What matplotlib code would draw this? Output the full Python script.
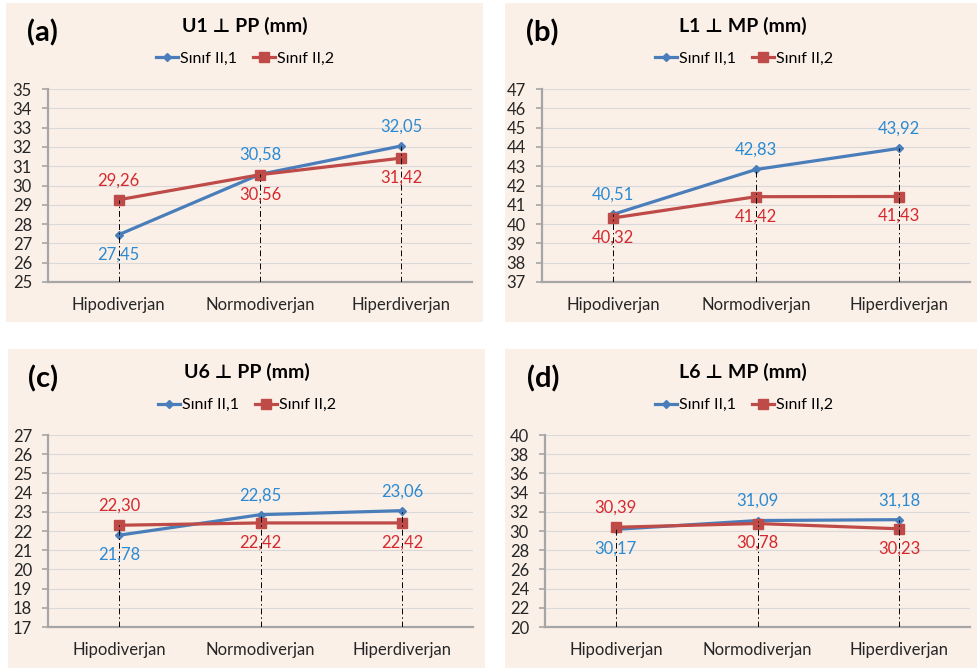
import matplotlib.pyplot as plt
from matplotlib.lines import Line2D
from matplotlib.patches import Rectangle

plt.rcParams['font.family'] = ['Lato', 'DejaVu Sans']

categories = ['Hipodiverjan', 'Normodiverjan', 'Hiperdiverjan']
series_names = ['Sınıf II,1', 'Sınıf II,2']

u1_s1 = [27.45, 30.58, 32.05]
u1_s2 = [29.26, 30.56, 31.42]
l1_s1 = [40.51, 42.83, 43.92]
l1_s2 = [40.32, 41.42, 41.43]
u6_s1 = [21.78, 22.85, 23.06]
u6_s2 = [22.30, 22.42, 22.42]
l6_s1 = [30.17, 31.09, 31.18]
l6_s2 = [30.39, 30.78, 30.23]

titles = ['U1 ⊥ PP (mm)', 'L1 ⊥ MP (mm)', 'U6 ⊥ PP (mm)', 'L6 ⊥ MP (mm)']
panel_tags = ['(a)', '(b)', '(c)', '(d)']
y_ranges = [(25, 35, 1), (37, 47, 1), (17, 27, 1), (20, 40, 2)]

BG = '#FBF0E8'
LINE_COLORS = ['#4A7EBB', '#BE4B48']
LABEL_COLORS = ['#2B8AD2', '#D42A2F']
AXIS_GRAY = '#A6A6A6'

W, H = 977, 669
fig = plt.figure(figsize=(W / 100, H / 100), dpi=100)
fig.patch.set_facecolor('white')


def fx(px):
    return px / W


def fy(py):
    return 1 - py / H


# pixel layout for each panel: background box, axes box, title/tag/legend anchors
layout = [
    dict(bg=(6, 3, 483, 322), ax=(48, 89, 472, 282), title=(245, 26), tag=(42, 33), leg=(245, 59)),
    dict(bg=(505, 3, 977, 322), ax=(542, 89, 970, 282), title=(743, 26), tag=(542, 33), leg=(744, 59)),
    dict(bg=(8, 349, 485, 668), ax=(48, 435, 473, 627), title=(247, 372), tag=(43, 379), leg=(247, 405)),
    dict(bg=(505, 349, 977, 668), ax=(545, 435, 970, 627), title=(743, 372), tag=(543, 379), leg=(744, 405)),
]

data = [(u1_s1, u1_s2), (l1_s1, l1_s2), (u6_s1, u6_s2), (l6_s1, l6_s2)]


def fmt(v):
    return f'{v:.2f}'.replace('.', ',')


for i, lay in enumerate(layout):
    x0, y0, x1, y1 = lay['bg']
    fig.patches.append(Rectangle((fx(x0), fy(y1)), fx(x1 - x0), (y1 - y0) / H,
                                 transform=fig.transFigure, facecolor=BG,
                                 edgecolor='none', zorder=-5))
    ax0, ay0, ax1, ay1 = lay['ax']
    ax = fig.add_axes([fx(ax0), fy(ay1), fx(ax1 - ax0), (ay1 - ay0) / H])
    ax.set_facecolor('none')
    ax.set_zorder(1)

    s1, s2 = data[i]
    xs = range(len(categories))
    lo, hi, step = y_ranges[i]

    ax.plot(xs, s1, color=LINE_COLORS[0], lw=2.3, marker='D', ms=4.5, zorder=3)
    ax.plot(xs, s2, color=LINE_COLORS[1], lw=2.3, marker='s', ms=7, zorder=3)

    # drop lines from the higher point to the category axis
    for x, a, b in zip(xs, s1, s2):
        ax.plot([x, x], [lo, max(a, b)], color='black', lw=0.7,
                ls=(0, (6, 3, 1.5, 3)), zorder=4)

    # value labels: higher series above, lower series below
    for x, a, b in zip(xs, s1, s2):
        for v, other, col in ((a, b, LABEL_COLORS[0]), (b, a, LABEL_COLORS[1])):
            off = 14 if v >= other else -14
            ax.annotate(fmt(v), (x, v), xytext=(0, off), textcoords='offset points',
                        ha='center', va='center', color=col, fontsize=12, zorder=5)

    ax.set_xlim(-0.5, 2.5)
    ax.set_ylim(lo, hi)
    ax.set_yticks(range(lo, hi + 1, step))
    ax.set_xticks(list(xs))
    ax.set_xticklabels(categories)
    ax.grid(axis='y', color='#D9D9D9', lw=0.8)
    ax.set_axisbelow(True)
    for side in ('top', 'right'):
        ax.spines[side].set_visible(False)
    for side in ('left', 'bottom'):
        ax.spines[side].set_color(AXIS_GRAY)
        ax.spines[side].set_linewidth(1.6)
    ax.tick_params(axis='y', length=4.5, width=1.2, color=AXIS_GRAY, pad=7,
                   labelsize=12, labelcolor='#262626')
    ax.tick_params(axis='x', length=0, pad=11, labelsize=12, labelcolor='#262626')

    tx, ty = lay['title']
    fig.text(fx(tx), fy(ty), titles[i], ha='center', va='center',
             fontsize=14, fontweight='bold')
    gx, gy = lay['tag']
    fig.text(fx(gx), fy(gy), panel_tags[i], ha='center', va='center',
             fontsize=21, fontweight='bold')

    handles = [Line2D([], [], color=LINE_COLORS[0], lw=2.3, marker='D', ms=4.5),
               Line2D([], [], color=LINE_COLORS[1], lw=2.3, marker='s', ms=7)]
    lx, ly = lay['leg']
    fig.legend(handles, series_names, loc='center', bbox_to_anchor=(fx(lx), fy(ly)),
               ncol=2, frameon=False, fontsize=11.5, handlelength=1.4,
               handletextpad=0.1, columnspacing=1.0, borderaxespad=0)

fig.savefig('out.png', dpi=100)
